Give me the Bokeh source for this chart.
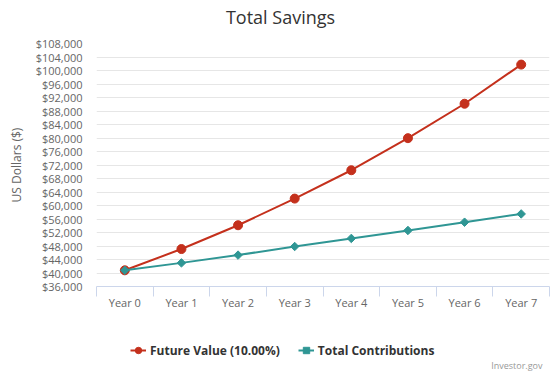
from bokeh.plotting import figure
from bokeh.layouts import column
from bokeh.models import (FixedTicker, NumeralTickFormatter, Legend, LegendItem,
                          Label, Range1d)
from bokeh.embed import file_html
from bokeh.resources import INLINE

years = ["Year 0", "Year 1", "Year 2", "Year 3", "Year 4", "Year 5", "Year 6", "Year 7"]
future_value = [40800, 47100, 54150, 62050, 70450, 79950, 90150, 101750]
total_contrib = [40800, 43000, 45300, 47850, 50250, 52600, 55050, 57500]
y_ticks = list(range(36000, 108001, 4000))
series_names = ["Future Value (10.00%)", "Total Contributions"]
title_text = "Total Savings"
y_label = "US Dollars ($)"
credit_text = "Investor.gov"

RED = "#c4301c"
TEAL = "#2f9694"
FONT = "Open Sans"
W = 560
LEFT, RIGHT = 96, 11

xs = list(range(len(years)))


def strip(height, top=0):
    f = figure(width=W, height=height, output_backend="svg", toolbar_location=None,
               x_range=Range1d(LEFT, W - RIGHT), y_range=Range1d(0, height - top),
               x_axis_location=None, y_axis_location=None,
               min_border_left=LEFT, min_border_right=RIGHT,
               min_border_top=top, min_border_bottom=0)
    f.outline_line_color = None
    f.grid.visible = False
    return f


# title strip
t = strip(30)
t.add_layout(Label(x=280, y=14, text=title_text, text_font=FONT, text_font_size="18px",
                   text_color="#333333", text_align="center", text_baseline="middle"))

# main chart
p = figure(width=W, height=282, output_backend="svg", toolbar_location=None,
           x_range=Range1d(-0.5, len(years) - 0.5),
           y_range=Range1d(y_ticks[0], y_ticks[-1]),
           min_border_left=LEFT, min_border_right=RIGHT, min_border_top=13,
           min_border_bottom=25)
p.outline_line_color = None
p.background_fill_color = "white"

xa = p.xaxis[0]
xa.ticker = FixedTicker(ticks=xs, minor_ticks=[i - 0.5 for i in range(len(years) + 1)])
xa.major_label_overrides = {i: y for i, y in enumerate(years)}
xa.major_tick_line_color = None
xa.major_tick_out = 0
xa.major_tick_in = 0
xa.minor_tick_line_color = "#ccd6eb"
xa.minor_tick_out = 10
xa.minor_tick_in = 0
xa.axis_line_color = "#ccd6eb"
xa.major_label_text_font = FONT
xa.major_label_text_font_size = "11px"
xa.major_label_text_color = "#666666"
xa.major_label_standoff = -2

ya = p.yaxis[0]
ya.ticker = FixedTicker(ticks=y_ticks)
ya.formatter = NumeralTickFormatter(format="$0,0")
ya.axis_line_color = None
ya.major_tick_line_color = None
ya.minor_tick_line_color = None
ya.major_tick_out = 0
ya.major_label_text_font = FONT
ya.major_label_text_font_size = "11px"
ya.major_label_text_color = "#666666"
ya.major_label_standoff = 14
ya.axis_label = y_label
ya.axis_label_text_font = FONT
ya.axis_label_text_font_size = "12px"
ya.axis_label_text_font_style = "normal"
ya.axis_label_text_color = "#666666"
ya.axis_label_standoff = 8

p.xgrid.grid_line_color = None
p.ygrid.grid_line_color = "#e6e6e6"

p.line(xs, future_value, line_color=RED, line_width=2)
p.scatter(xs, future_value, marker="circle", size=9, fill_color=RED, line_color=RED)
p.line(xs, total_contrib, line_color=TEAL, line_width=2)
p.scatter(xs, total_contrib, marker="square", angle=0.785398, size=6,
          fill_color=TEAL, line_color=TEAL)

# legend / credits strip (series re-plotted far outside its visible range,
# only so that the legend swatches have real renderers)
q = strip(61)
l1 = q.line(xs, future_value, line_color=RED, line_width=2)
s1 = q.scatter(xs, future_value, marker="circle", size=9, fill_color=RED, line_color=RED)
l2 = q.line(xs, total_contrib, line_color=TEAL, line_width=2)
s2 = q.scatter(xs, total_contrib, marker="square", angle=0.785398, size=6,
               fill_color=TEAL, line_color=TEAL)

legend = Legend(items=[LegendItem(label=series_names[0], renderers=[l1, s1]),
                       LegendItem(label=series_names[1], renderers=[l2, s2])],
                orientation="horizontal", location=(34, 13))
legend.label_text_font = FONT
legend.label_text_font_size = "12px"
legend.label_text_font_style = "bold"
legend.label_text_color = "#333333"
legend.border_line_color = None
legend.background_fill_alpha = 0
legend.glyph_width = 16
legend.label_standoff = 4
legend.spacing = 18
legend.padding = 2
legend.margin = 0
q.add_layout(legend, "center")

q.add_layout(Label(x=542, y=8, text=credit_text, text_font=FONT, text_font_size="9px",
                   text_color="#999999", text_align="right", text_baseline="middle"))

open("out.html", "w").write(file_html(column(t, p, q, spacing=0), INLINE))
